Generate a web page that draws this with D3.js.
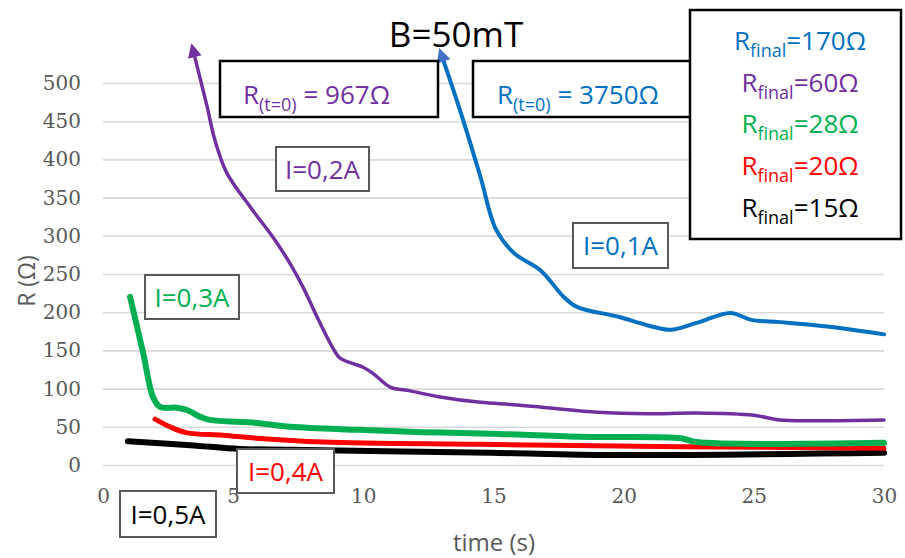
<!DOCTYPE html>
<html>
<head>
<meta charset="utf-8">
<script src="https://cdn.jsdelivr.net/npm/d3@7"></script>
<style>
body { margin: 0; background: #fff; }
svg { display: block; font-family: "Open Sans", sans-serif; }
</style>
</head>
<body>
<svg width="905" height="558"></svg>
<script>
// readings: time (s) and R (ohm)
var t01 = [13.0, 13.8, 14.5, 15.1, 15.8, 16.8, 17.7, 18.2, 19.8, 20.9, 21.8, 22.8, 24.1, 24.9, 26.0, 27.9, 30];
var r01 = [537, 455, 377, 308, 277, 255, 220, 207, 194, 183, 177, 186, 199, 190, 187, 181, 171];

var t02 = [3.46, 4.0, 4.3, 4.76, 5.65, 6.53, 7.18, 7.68, 8.22, 8.72, 9.1, 9.49, 9.99, 10.37, 11.03, 11.8, 12.95, 14.5, 15.75, 17.05, 19.0, 20.9, 22.8, 25.0, 26.0, 27.3, 30];
var r02 = [543, 469, 425, 382, 338, 298, 264, 233, 194, 160, 140, 134, 128, 120, 102, 97, 89, 82, 79, 75, 69, 67, 68, 65, 59, 58, 59];

var t03 = [1.04, 1.54, 1.92, 2.19, 2.84, 3.23, 3.73, 4.1, 5.9, 7.2, 9.8, 12.3, 14.9, 18.3, 22.2, 22.8, 30];
var r03 = [220, 147, 89, 76, 75, 72, 63, 59, 55, 50, 46, 43, 41, 37, 35, 30, 29];

var t04 = [2.0, 2.57, 3.23, 4.6, 5.9, 8.45, 14.5, 22.2, 30];
var r04 = [60, 50, 42, 39, 35, 30, 27, 24, 22];

var t05 = [0.96, 3.35, 5.25, 7.2, 14.9, 19.6, 30];
var r05 = [31, 26, 21, 20, 16, 13, 16];

var xTicks = [0, 5, 10, 15, 20, 25, 30];
var yTicks = [0, 50, 100, 150, 200, 250, 300, 350, 400, 450, 500];

var currents = ["I=0,1A", "I=0,2A", "I=0,3A", "I=0,4A", "I=0,5A"];
var rFinal = ["170", "60", "28", "20", "15"];
var rStart = ["967", "3750"];

var svg = d3.select("svg");
var grey = "#595959";

var x = d3.scaleLinear().domain([0, 30]).range([103, 884]);
var y = d3.scaleLinear().domain([0, 500]).range([465, 83]);

// y axis with gridlines
var yAxis = svg.append("g")
    .attr("transform", "translate(103,0)")
    .call(d3.axisLeft(y).tickValues(yTicks).tickSize(-781).tickPadding(22));
yAxis.select(".domain").remove();
yAxis.selectAll("line").attr("stroke", "#d9d9d9").attr("stroke-width", 1.6);
yAxis.selectAll("text").attr("fill", grey).style("font-family", "DejaVu Serif").style("font-size", "20px");

var xAxis = svg.append("g")
    .attr("transform", "translate(0,465)")
    .call(d3.axisBottom(x).tickValues(xTicks).tickSize(0).tickPadding(24));
xAxis.select(".domain").remove();
xAxis.selectAll("text").attr("fill", grey).style("font-family", "DejaVu Serif").style("font-size", "20px");

// axis titles
svg.append("text")
    .attr("x", 494).attr("y", 551)
    .attr("text-anchor", "middle")
    .attr("fill", grey)
    .style("font-size", "24px")
    .text("time (s)");
svg.append("text")
    .attr("transform", "translate(35,281)rotate(-90)")
    .attr("text-anchor", "middle")
    .attr("fill", grey)
    .style("font-size", "23px")
    .text("R (Ω)");

// arrow heads
var defs = svg.append("defs");
function arrow(id, col) {
    defs.append("marker")
        .attr("id", id)
        .attr("viewBox", "0 0 10 10")
        .attr("refX", 5).attr("refY", 5)
        .attr("markerWidth", 15).attr("markerHeight", 14)
        .attr("markerUnits", "userSpaceOnUse")
        .attr("orient", "auto-start-reverse")
        .append("path")
        .attr("d", "M0,0 L10,5 L0,10 z")
        .attr("fill", col);
}
arrow("arrPurple", "#7030a0");
arrow("arrBlue", "#4472c4");

var line = d3.line()
    .x(function (d) { return x(d[0]); })
    .y(function (d) { return y(d[1]); })
    .curve(d3.curveCatmullRom.alpha(0.5));

function zip(a, b) {
    var out = [];
    for (var i = 0; i < a.length; i++) out.push([a[i], b[i]]);
    return out;
}

var series = [
    { t: t05, r: r05, col: "#000000", w: 6 },
    { t: t04, r: r04, col: "#ff0000", w: 5 },
    { t: t03, r: r03, col: "#00b050", w: 6 },
    { t: t02, r: r02, col: "#7030a0", w: 3.5, arrow: "arrPurple" },
    { t: t01, r: r01, col: "#0070c0", w: 4, arrow: "arrBlue" }
];
series.forEach(function (s) {
    var p = svg.append("path")
        .datum(zip(s.t, s.r))
        .attr("d", line)
        .attr("fill", "none")
        .attr("stroke", s.col)
        .attr("stroke-width", s.w)
        .attr("stroke-linejoin", "round")
        .attr("stroke-linecap", "round");
    if (s.arrow) p.attr("marker-start", "url(#" + s.arrow + ")");
});

// title
svg.append("text")
    .attr("x", 456).attr("y", 47)
    .attr("text-anchor", "middle")
    .attr("fill", "#000")
    .style("font-size", "35px")
    .text("B=50mT");

// R(t=0) boxes
var startBoxes = [
    { x: 220, w: 218, col: "#7030a0", tx: 243 },
    { x: 473, w: 240, col: "#0070c0", tx: 497 }
];
startBoxes.forEach(function (b, i) {
    svg.append("rect")
        .attr("x", b.x).attr("y", 61).attr("width", b.w).attr("height", 56)
        .attr("fill", "#fff").attr("stroke", "#000").attr("stroke-width", 2.5);
    var t = svg.append("text").attr("x", b.tx).attr("y", 104)
        .attr("fill", b.col).style("font-size", "26px");
    t.append("tspan").text("R");
    t.append("tspan").attr("dy", 7).style("font-size", "18px").text("(t=0)");
    t.append("tspan").attr("dy", -7).text(" = " + rStart[i] + "Ω");
});

// legend box with final values
var legCols = ["#0070c0", "#7030a0", "#00b050", "#ff0000", "#000000"];
svg.append("rect")
    .attr("x", 690).attr("y", 10).attr("width", 211).attr("height", 229)
    .attr("fill", "#fff").attr("stroke", "#000").attr("stroke-width", 2.5);
rFinal.forEach(function (v, i) {
    var t = svg.append("text")
        .attr("x", 800).attr("y", 50 + i * 41.7)
        .attr("text-anchor", "middle")
        .attr("fill", legCols[i])
        .style("font-size", "26px");
    t.append("tspan").text("R");
    t.append("tspan").attr("dy", 7).style("font-size", "18px").text("final");
    t.append("tspan").attr("dy", -7).text("=" + v + "Ω");
});

// current labels
var labelBoxes = [
    { x: 573, y: 223, w: 95, h: 45 },
    { x: 276, y: 147, w: 93, h: 44 },
    { x: 145, y: 275, w: 94, h: 44 },
    { x: 237, y: 449, w: 97, h: 44 },
    { x: 120, y: 491, w: 96, h: 46 }
];
currents.forEach(function (c, i) {
    var b = labelBoxes[i];
    svg.append("rect")
        .attr("x", b.x).attr("y", b.y).attr("width", b.w).attr("height", b.h)
        .attr("fill", "#fff").attr("stroke", grey).attr("stroke-width", 2);
    svg.append("text")
        .attr("x", b.x + b.w / 2).attr("y", b.y + b.h / 2 + 9.5)
        .attr("text-anchor", "middle")
        .attr("fill", legCols[i])
        .style("font-size", "26px")
        .text(c);
});
</script>
</body>
</html>
